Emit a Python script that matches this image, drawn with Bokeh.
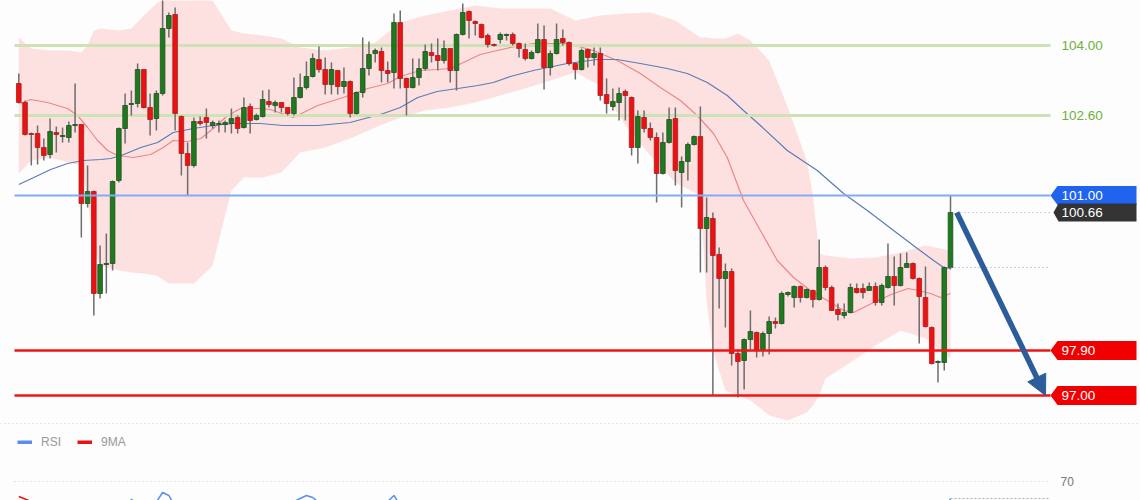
from bokeh.plotting import figure
from bokeh.layouts import column
from bokeh.models import Range1d, Span, Arrow, NormalHead, Legend, LegendItem, ColumnDataSource
from bokeh.embed import file_html
from bokeh.resources import INLINE
from bokeh.core.properties import value

# ---------------- data ----------------
opens = [103.24, 102.86, 102.24, 102.24, 101.96, 101.82, 102.26, 102.18, 102.16, 102.40,
         102.42, 100.84, 101.08, 99.04, 99.62, 99.64, 101.30, 102.34, 102.82, 102.84,
         103.52, 102.76, 102.54, 103.04, 104.34, 104.62, 102.58, 101.84, 101.60, 102.48,
         102.56, 102.40, 102.42, 102.42, 102.44, 102.56, 102.36, 102.78, 102.52, 102.58,
         102.88, 102.80, 102.86, 102.76, 102.64, 102.96, 103.16, 103.38, 103.72, 103.52,
         103.22, 103.50, 103.18, 103.28, 102.64, 103.06, 103.54, 103.84, 103.88, 103.50,
         103.46, 104.46, 103.34, 103.16, 103.36, 103.54, 103.86, 103.80, 103.70, 103.94,
         103.50, 104.22, 104.68, 104.48, 104.42, 104.20, 104.02, 104.12, 104.20, 104.22,
         104.04, 103.92, 103.74, 103.86, 104.12, 103.56, 103.84, 104.14, 104.06, 103.64,
         103.52, 103.92, 103.76, 103.84, 103.02, 102.78, 102.86, 103.08, 102.96, 101.96,
         102.56, 102.34, 102.16, 101.44, 102.06, 102.54, 101.46, 101.68, 102.02, 102.18,
         100.34, 100.54, 99.82, 99.34, 99.48, 97.84, 97.70, 98.12, 98.26, 97.92,
         98.24, 98.48, 98.44, 99.02, 98.96, 99.18, 98.96, 99.10, 98.92, 99.56,
         99.16, 98.72, 98.60, 98.66, 99.14, 99.14, 99.10, 99.18, 98.86, 99.16,
         99.38, 99.20, 99.56, 99.64, 99.34, 98.96, 98.36, 97.66, 97.66, 99.56]

closes = [102.86, 102.22, 102.22, 101.96, 101.80, 102.28, 102.22, 102.20, 102.40, 102.42,
          100.84, 101.08, 99.04, 99.62, 99.64, 101.28, 102.34, 102.80, 102.84, 103.52,
          102.76, 102.52, 103.04, 104.34, 104.60, 102.64, 101.84, 101.60, 102.48, 102.44,
          102.46, 102.46, 102.44, 102.46, 102.54, 102.34, 102.76, 102.50, 102.60, 102.92,
          102.82, 102.86, 102.76, 102.64, 102.96, 103.16, 103.38, 103.74, 103.52, 103.22,
          103.52, 103.18, 103.28, 102.64, 103.06, 103.54, 103.82, 103.90, 103.50, 103.44,
          104.46, 103.34, 103.16, 103.36, 103.54, 103.88, 103.80, 103.70, 103.94, 103.50,
          104.22, 104.66, 104.50, 104.44, 104.16, 104.02, 104.00, 104.22, 104.22, 104.04,
          103.94, 103.74, 103.86, 104.12, 103.56, 103.84, 104.12, 104.06, 103.64, 103.52,
          103.90, 103.76, 103.84, 103.00, 102.84, 102.88, 103.04, 103.00, 101.96, 102.58,
          102.34, 102.16, 101.44, 102.06, 102.52, 101.50, 101.68, 102.02, 102.18, 100.34,
          100.56, 99.80, 99.34, 99.48, 97.84, 97.68, 98.12, 98.28, 97.92, 98.24,
          98.48, 98.44, 99.04, 99.06, 99.18, 98.96, 99.12, 98.92, 99.56, 99.16,
          98.70, 98.62, 98.66, 99.16, 99.06, 99.06, 99.18, 98.86, 99.20, 99.38,
          99.20, 99.56, 99.64, 99.34, 98.98, 98.38, 97.64, 97.68, 99.56, 100.66]

highs = [103.44, 102.90, 102.26, 102.40, 102.14, 102.54, 102.38, 102.36, 102.48, 103.24,
         102.42, 101.60, 101.10, 100.00, 100.24, 101.30, 102.36, 103.04, 103.10, 103.64,
         103.52, 103.04, 103.10, 105.00, 104.66, 104.76, 102.60, 102.06, 102.56, 102.58,
         102.74, 102.50, 102.50, 102.50, 102.74, 102.60, 102.96, 102.84, 102.64, 103.10,
         103.12, 102.90, 102.86, 102.76, 103.36, 103.44, 103.68, 103.84, 103.98, 103.76,
         103.66, 103.50, 103.56, 103.30, 103.08, 104.16, 104.08, 103.94, 103.96, 103.68,
         104.64, 104.70, 103.36, 103.74, 103.74, 104.02, 104.04, 104.14, 104.10, 103.94,
         104.24, 104.84, 104.70, 104.50, 104.44, 104.24, 104.04, 104.26, 104.24, 104.26,
         104.06, 104.04, 103.90, 104.44, 104.40, 103.90, 104.44, 104.32, 104.08, 103.66,
         103.94, 103.94, 103.96, 103.96, 103.34, 103.14, 103.16, 103.12, 102.98, 102.70,
         102.70, 102.46, 102.26, 102.26, 102.76, 102.76, 101.78, 102.06, 102.20, 102.78,
         100.96, 100.66, 99.96, 99.64, 99.54, 97.92, 98.14, 98.70, 98.28, 98.28,
         98.58, 98.56, 99.08, 99.08, 99.20, 99.20, 99.14, 99.12, 100.12, 99.60,
         99.20, 98.84, 98.84, 99.24, 99.24, 99.24, 99.26, 99.26, 99.24, 100.04,
         99.78, 99.84, 99.86, 99.66, 99.36, 99.58, 98.38, 97.70, 99.58, 101.00]

lows = [102.84, 102.20, 101.60, 101.62, 101.70, 101.74, 101.86, 102.06, 102.06, 102.26,
        100.16, 100.76, 98.60, 98.94, 99.04, 99.50, 101.26, 102.04, 102.60, 102.76,
        102.74, 102.20, 102.30, 103.00, 104.16, 102.30, 101.40, 101.00, 101.56, 102.40,
        102.14, 102.34, 102.26, 102.26, 102.24, 102.24, 102.34, 102.24, 102.50, 102.56,
        102.76, 102.66, 102.66, 102.60, 102.60, 102.94, 103.12, 103.36, 103.46, 103.02,
        103.02, 103.02, 103.04, 102.56, 102.62, 102.96, 103.40, 103.66, 103.26, 103.26,
        103.14, 103.14, 102.60, 103.14, 103.20, 103.50, 103.66, 103.50, 103.64, 103.26,
        103.10, 104.20, 104.14, 104.20, 104.14, 103.96, 103.98, 104.04, 104.10, 104.00,
        103.76, 103.70, 103.72, 103.84, 103.12, 103.40, 103.82, 104.00, 103.60, 103.32,
        103.50, 103.56, 103.60, 102.90, 102.64, 102.70, 102.50, 102.50, 101.80, 101.64,
        102.26, 102.10, 100.86, 101.42, 102.04, 101.20, 100.76, 101.30, 102.00, 99.46,
        99.46, 97.00, 98.74, 98.36, 97.60, 96.96, 97.12, 97.92, 97.76, 97.78,
        97.82, 98.34, 98.42, 98.98, 98.76, 98.86, 98.94, 98.76, 98.90, 99.10,
        98.70, 98.50, 98.54, 98.64, 99.04, 98.94, 99.10, 98.80, 98.80, 99.14,
        98.80, 99.18, 99.56, 99.32, 98.04, 98.36, 97.62, 97.26, 97.50, 99.52]

# Moving average (red, middle of band) read at candle positions
ma_red_idx = [1.3, 2.9, 5.6, 8.8, 10.4, 12.0, 13.6, 15.2, 16.8, 19.3, 22.1, 24.1, 25.7, 28.0,
              30.1, 32.1, 34.4, 36.5, 39.6, 41.2, 44.9, 48.8, 52.9, 56.8, 60.0, 62.0, 65.2,
              67.9, 70.0, 72.1, 74.8, 77.5, 79.6, 83.3, 88.7, 92.9, 96.7, 100.4, 103.6, 106.8,
              109.5, 112.1, 114.3, 116.9, 119.6, 122.3, 124.9, 127.6, 130.3, 132.9, 134.5,
              137.7, 140.9, 143.2, 144.8, 146.8, 148.4, 150.0]
ma_red = [102.84, 102.92, 102.86, 102.74, 102.60, 102.36, 102.10, 101.90, 101.80, 101.76,
          101.82, 101.96, 102.10, 102.08, 102.14, 102.34, 102.60, 102.74, 102.74, 102.72,
          102.56, 102.80, 102.96, 103.14, 103.24, 103.38, 103.50, 103.52, 103.54, 103.66,
          103.82, 103.90, 103.96, 104.04, 104.04, 103.90, 103.70, 103.44, 103.16, 102.90,
          102.60, 102.24, 101.76, 100.90, 100.30, 99.70, 99.36, 99.10, 98.90, 98.70,
          98.66, 98.86, 99.04, 99.14, 99.10, 99.04, 98.96, 99.04]

# Slow moving average (blue)
ma_blue_idx = [1.0, 3.4, 6.1, 8.8, 11.3, 14.1, 15.7, 17.8, 20.5, 23.2, 25.7, 28.9, 32.1, 35.3,
               39.6, 43.3, 48.8, 54.0, 59.3, 62.0, 64.8, 67.9, 71.2, 74.4, 76.9, 79.6, 83.3,
               88.7, 93.5, 96.7, 100.4, 104.7, 107.9, 111.1, 114.3, 116.9, 119.6, 123.9, 128.7,
               132.9, 136.7, 140.9, 144.7, 147.3, 148.9, 150.0]
ma_blue = [101.22, 101.36, 101.52, 101.64, 101.70, 101.72, 101.74, 101.82, 101.96, 102.06,
           102.26, 102.34, 102.40, 102.44, 102.44, 102.40, 102.40, 102.46, 102.64, 102.76,
           102.96, 103.08, 103.14, 103.20, 103.26, 103.38, 103.50, 103.64, 103.72, 103.72,
           103.64, 103.54, 103.44, 103.26, 103.00, 102.70, 102.40, 101.90, 101.50, 101.04,
           100.70, 100.30, 99.94, 99.70, 99.56, 99.54]

# Bollinger-type band
band_idx = [1, 3, 6, 9, 11, 12, 13, 14, 17, 19, 21, 23, 25, 27, 29, 32, 35, 37, 40, 43, 46,
            50, 54, 58, 62, 66, 70, 74, 78, 82, 86, 90, 94, 98, 102, 106, 110, 111, 112, 114,
            116, 118, 121, 124, 127, 128, 129, 130, 134, 138, 142, 146, 150]
band_upper = [104.16, 103.94, 103.90, 103.90, 103.86, 104.00, 104.30, 104.34, 104.30, 104.34,
              104.60, 104.84, 105.00, 105.06, 105.06, 104.90, 104.30, 104.24, 104.20, 104.14,
              103.96, 103.90, 103.96, 104.06, 104.46, 104.60, 104.70, 104.80, 104.74, 104.74,
              104.74, 104.50, 104.60, 104.64, 104.66, 104.50, 104.16, 104.16, 104.14, 104.14,
              104.24, 104.10, 103.70, 102.76, 101.70, 101.00, 99.84, 99.80, 99.74, 99.76,
              99.86, 100.00, 99.90]
band_lower = [101.44, 101.70, 101.76, 101.66, 101.60, 100.90, 99.90, 99.60, 99.50, 99.46,
              99.44, 99.40, 99.24, 99.24, 99.24, 99.60, 101.10, 101.36, 101.36, 101.46,
              101.86, 101.96, 102.14, 102.36, 102.56, 102.70, 102.76, 102.86, 103.00, 103.14,
              103.30, 103.46, 103.20, 102.40, 101.80, 101.26, 101.00, 98.90, 97.90, 97.10,
              97.00, 96.90, 96.60, 96.50, 96.66, 96.80, 97.00, 97.34, 97.66, 98.00,
              98.30, 98.14, 97.74]

# Horizontal levels
green_levels = [104.00, 102.60]
blue_level = 101.00
red_levels = [97.90, 97.00]
target_level = 97.00

# Lower pane (RSI and its 9-period average)
rsi_idx = [1, 4, 8, 11, 13, 16, 19, 22, 24, 25, 27, 30, 34, 38, 42, 45, 47, 48, 50, 54, 57,
           60, 61, 62, 64, 68, 72, 76, 80, 84, 88, 92, 96, 100, 104, 108, 112, 116, 120, 124,
           128, 132, 136, 140, 144, 147, 149, 150]
rsi_val = [58, 50, 47, 36, 30, 45, 61, 55, 64.5, 63, 52, 49, 52, 53, 55, 60, 63, 62, 57, 54, 58,
           60, 63, 58, 56, 58, 60, 56, 53, 54, 55, 50, 42, 40, 38, 40, 25, 22, 35, 45,
           47, 40, 46, 50, 48, 35, 55, 61.5]
ma9_idx = [1, 3, 6, 10, 15, 20, 25, 30, 40, 50, 60, 70, 80, 90, 100, 110, 120, 130, 140, 150]
ma9_val = [62.5, 60, 56, 50, 42, 45, 54, 55, 52, 57, 58, 58, 55, 54, 44, 38, 30, 40, 46, 50]
rsi_level = 70

# ---------------- layout helpers (reference pixel -> data) ----------------
FONT = "Liberation Sans"
BG = "#fcfdfc"
W = 1140
H_MAIN = 425
H_RSI = 75


def px_x(px):
    return 1 + (px - 18.3) / 6.253


def px_y(py):
    return 104.9 - py / 50.0


x_range = Range1d(px_x(0), px_x(W))

p = figure(width=W, height=H_MAIN, x_range=x_range,
           y_range=Range1d(px_y(H_MAIN), px_y(0)),
           x_axis_type=None, y_axis_type=None, toolbar_location=None,
           output_backend="svg", min_border=0,
           background_fill_color=BG, border_fill_color=BG, outline_line_color=None)

# band
p.varea(x=band_idx, y1=band_lower, y2=band_upper, fill_color="#fde1e1", fill_alpha=1.0)

# moving averages
p.line(ma_red_idx, ma_red, line_color="#f08585", line_width=1.2)
p.line(ma_blue_idx, ma_blue, line_color="#5a7db5", line_width=1.2)

# green levels (behind candles)
x_l0, x_l1 = px_x(14), px_x(1050)
for lv in green_levels:
    p.segment(x0=[x_l0], y0=[lv], x1=[x_l1], y1=[lv], line_color="#cde3b5", line_width=3)

# candles
idx = list(range(1, len(opens) + 1))
up = [c >= o for o, c in zip(opens, closes)]
src = ColumnDataSource(dict(
    x=idx, h=highs, l=lows,
    top=[max(o, c) for o, c in zip(opens, closes)],
    bottom=[min(o, c) for o, c in zip(opens, closes)],
    fill=["#1d7a1d" if u else "#ee1111" for u in up],
    edge=["#244d24" if u else "#a52020" for u in up],
))
p.segment(x0="x", y0="h", x1="x", y1="l", source=src, line_color="#6d6d6d", line_width=1.5)
p.vbar(x="x", width=0.74, top="top", bottom="bottom", source=src,
       fill_color="fill", line_color="edge", line_width=0.8)

# blue / red levels
p.segment(x0=[x_l0], y0=[blue_level], x1=[x_l1], y1=[blue_level], line_color="#84abf2", line_width=2)
for lv in red_levels:
    p.segment(x0=[x_l0], y0=[lv], x1=[x_l1], y1=[lv], line_color="#f01414", line_width=2.5)

# dotted guides from last candle
last_x = idx[-1]
p.segment(x0=[px_x(960)], y0=[closes[-1]], x1=[x_l1], y1=[closes[-1]],
          line_color="#a8a8a8", line_width=1.2, line_dash="1 3")
p.segment(x0=[px_x(950)], y0=[opens[-1]], x1=[x_l1], y1=[opens[-1]],
          line_color="#8d9fcf", line_width=1.2, line_dash="1 3")

# green level labels
p.text(x=[px_x(1061)] * len(green_levels), y=green_levels,
       text=[f"{v:.2f}" for v in green_levels],
       text_font=value(FONT), text_font_size=value("13.5px"), text_color="#6fb13c",
       text_baseline="middle", text_align="left")


def callout(level, tip_px, corner_px, half_px):
    h = half_px / 50.0
    xs = [px_x(tip_px), px_x(corner_px), px_x(1136), px_x(1136), px_x(corner_px)]
    ys = [level, level + h, level + h, level - h, level - h]
    return xs, ys


c_xs, c_ys, c_col, t_y, t_txt = [], [], [], [], []
for lv, col, tip, cor, hh in [(blue_level, "#1f63ee", 1050, 1057, 9.5),
                              (closes[-1], "#333333", 1053, 1058, 9.0),
                              (red_levels[0], "#f00000", 1050, 1057, 9.5),
                              (red_levels[1], "#f00000", 1050, 1057, 9.5)]:
    xs, ys = callout(lv, tip, cor, hh)
    c_xs.append(xs)
    c_ys.append(ys)
    c_col.append(col)
    t_y.append(lv)
    t_txt.append(f"{lv:.2f}")
p.patches(xs=c_xs, ys=c_ys, fill_color=c_col, line_color=None)
p.text(x=[px_x(1061)] * len(t_y), y=t_y, text=t_txt,
       text_font=value(FONT), text_font_size=value("13.5px"), text_color="#ffffff",
       text_baseline="middle", text_align="left")

# separator at the bottom of the price pane
p.add_layout(Span(location=px_y(423), dimension="width", line_color="#cfcfcf",
                  line_width=1, line_dash="1 3"))

# forecast arrow
arrow_col = "#2c5c9a"
p.add_layout(Arrow(end=NormalHead(size=20, fill_color=arrow_col, line_color=arrow_col),
                   x_start=last_x + 1, y_start=closes[-1],
                   x_end=px_x(1045), y_end=target_level,
                   line_color=arrow_col, line_width=5.5))

# ---------------- RSI pane ----------------
p2 = figure(width=W, height=H_RSI, x_range=x_range, y_range=Range1d(60.5, 98),
            x_axis_type=None, y_axis_type=None, toolbar_location=None,
            output_backend="svg", min_border=0,
            background_fill_color=BG, border_fill_color=BG, outline_line_color=None)

p2.segment(x0=[x_l0], y0=[rsi_level], x1=[x_l1], y1=[rsi_level],
           line_color="#c4c4c4", line_width=1, line_dash="1 3")
p2.text(x=[px_x(1060)], y=[rsi_level], text=[str(rsi_level)],
        text_font=value(FONT), text_font_size=value("12px"), text_color="#777777",
        text_baseline="middle", text_align="left")

rsi_line = p2.line(rsi_idx, rsi_val, line_color="#5b8def", line_width=1.5)
ma9_line = p2.line(ma9_idx, ma9_val, line_color="#ee1111", line_width=1.5)
p2.segment(x0=[px_x(950)], y0=[rsi_val[-1]], x1=[x_l1], y1=[rsi_val[-1]],
           line_color="#b0b0b0", line_width=1, line_dash="2 2")
# thick copies used only for the legend swatches
rsi_key = p2.line(rsi_idx, rsi_val, line_color="#5b8def", line_width=4, visible=False)
ma9_key = p2.line(ma9_idx, ma9_val, line_color="#ee1111", line_width=4, visible=False)

legend = Legend(items=[LegendItem(label="RSI", renderers=[rsi_key]),
                       LegendItem(label="9MA", renderers=[ma9_key])],
                orientation="horizontal", location=(17, H_RSI - 27),
                glyph_width=15, glyph_height=4, label_standoff=9, spacing=16,
                padding=0, margin=0, label_height=20,
                background_fill_alpha=0, border_line_alpha=0,
                label_text_font=FONT, label_text_font_size="12px",
                label_text_color="#999999")
p2.add_layout(legend)

layout = column(p, p2, spacing=0)
with open("out.html", "w") as f:
    f.write(file_html(layout, INLINE, title="chart"))
